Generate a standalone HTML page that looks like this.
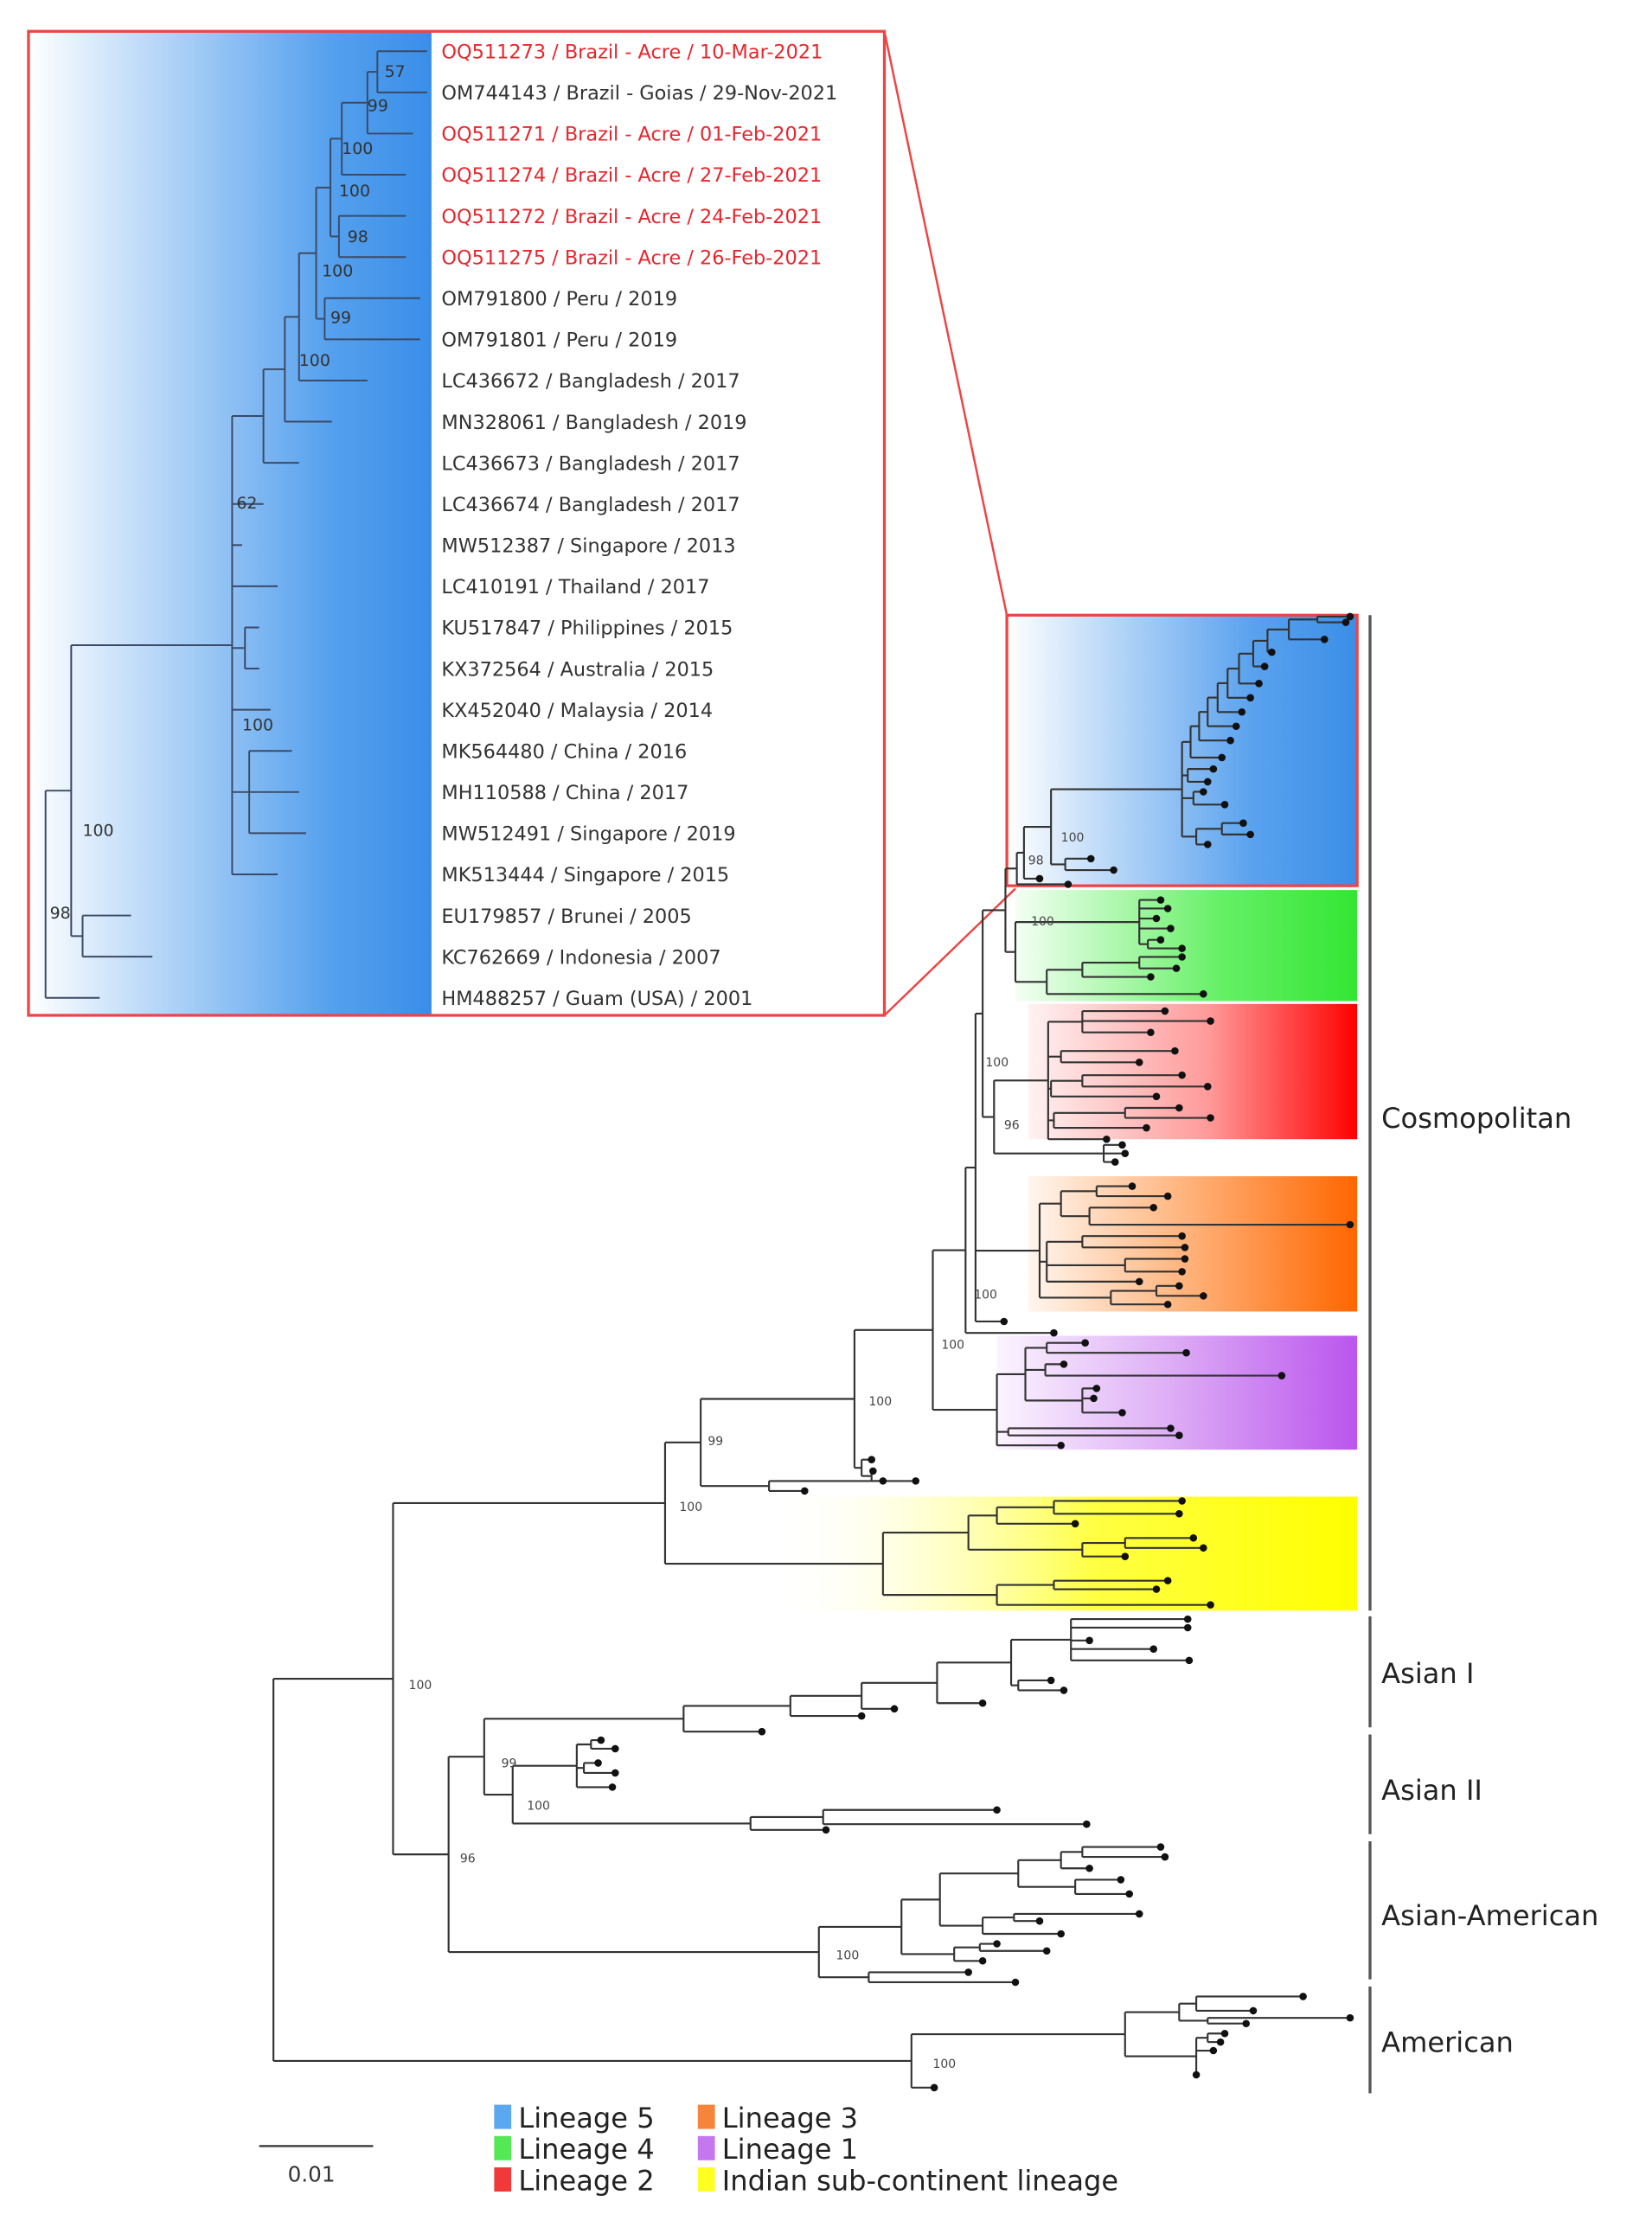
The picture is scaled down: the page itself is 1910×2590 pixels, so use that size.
<!DOCTYPE html>
<html><head><meta charset="utf-8">
<style>
html,body{margin:0;padding:0;background:#fff;}
svg{display:block;}
text{font-family:"DejaVu Sans","Liberation Sans",sans-serif;}
</style></head>
<body>
<svg id="s" xmlns="http://www.w3.org/2000/svg" width="1910" height="2590" viewBox="0 0 1160 1573" preserveAspectRatio="none">
<defs>
<linearGradient id="gInset" x1="0" x2="1" y1="0" y2="0"><stop offset="0" stop-color="#fff"/><stop offset="0.75" stop-color="#55a0ee"/><stop offset="1" stop-color="#3a8ee8"/></linearGradient>
<linearGradient id="gB" x1="0" x2="1"><stop offset="0" stop-color="#fff"/><stop offset="0.7" stop-color="#5aa2ee"/><stop offset="1" stop-color="#3a8ee8"/></linearGradient>
<linearGradient id="gG" x1="0" x2="1"><stop offset="0" stop-color="#f4fff4"/><stop offset="0.6" stop-color="#66f066"/><stop offset="1" stop-color="#33e633"/></linearGradient>
<linearGradient id="gR" x1="0" x2="1"><stop offset="0" stop-color="#fff2f2"/><stop offset="0.55" stop-color="#f99"/><stop offset="1" stop-color="#ff0000"/></linearGradient>
<linearGradient id="gO" x1="0" x2="1"><stop offset="0" stop-color="#fff6ee"/><stop offset="0.5" stop-color="#ffb077"/><stop offset="1" stop-color="#ff6600"/></linearGradient>
<linearGradient id="gP" x1="0" x2="1"><stop offset="0" stop-color="#fbf4ff"/><stop offset="0.5" stop-color="#dcaaf5"/><stop offset="1" stop-color="#bb55ee"/></linearGradient>
<linearGradient id="gY" x1="0" x2="1"><stop offset="0" stop-color="#fff" stop-opacity="0"/><stop offset="0.55" stop-color="#ffff44"/><stop offset="1" stop-color="#ffff00"/></linearGradient>
</defs>
<rect x="20" y="22" width="283" height="691" fill="url(#gInset)"/>
<rect x="20" y="22" width="601" height="691" fill="none" stroke="#ee4444" stroke-width="2"/>
<line x1="621" y1="22" x2="707" y2="432" stroke="#ee4444" stroke-width="1.5"/>
<line x1="621" y1="713" x2="713" y2="624" stroke="#ee4444" stroke-width="1.5"/>
<rect x="707" y="432" width="246" height="190" fill="url(#gB)" stroke="#ee4444" stroke-width="2"/>
<rect x="713" y="625" width="240" height="78" fill="url(#gG)"/>
<rect x="722" y="705" width="231" height="95" fill="url(#gR)"/>
<rect x="722" y="826" width="231" height="95" fill="url(#gO)"/>
<rect x="700" y="938" width="253" height="80" fill="url(#gP)"/>
<rect x="540" y="1051" width="413" height="80" fill="url(#gY)"/>
<g stroke="#555" stroke-width="2">
<line x1="962" y1="432" x2="962" y2="1131"/>
<line x1="962" y1="1135" x2="962" y2="1213"/>
<line x1="962" y1="1218" x2="962" y2="1288"/>
<line x1="962" y1="1293" x2="962" y2="1390"/>
<line x1="962" y1="1395" x2="962" y2="1470"/>
</g>
<g font-size="19.5" fill="#222">
<text x="970" y="792">Cosmopolitan</text>
<text x="970" y="1182">Asian I</text>
<text x="970" y="1264">Asian II</text>
<text x="970" y="1352">Asian-American</text>
<text x="970" y="1441">American</text>
</g>
<g id="tree"></g>
<g font-size="13.6" id="ilab"></g>
<g font-size="8.5" fill="#444">
<text x="745" y="591">100</text><text x="722" y="607">98</text>
<text x="724" y="650">100</text><text x="692" y="749">100</text><text x="705" y="793">96</text>
<text x="684" y="912">100</text><text x="661" y="947">100</text><text x="610" y="987">100</text>
<text x="497" y="1015">99</text><text x="477" y="1061">100</text><text x="287" y="1186">100</text>
<text x="352" y="1241">99</text><text x="370" y="1271">100</text><text x="323" y="1308">96</text>
<text x="587" y="1376">100</text><text x="655" y="1452">100</text>
</g>
<g font-size="11.5" fill="#333">
<text x="270" y="54">57</text><text x="258" y="78">99</text><text x="240" y="108">100</text>
<text x="238" y="138">100</text><text x="244" y="170">98</text><text x="226" y="194">100</text>
<text x="232" y="227">99</text><text x="210" y="257">100</text><text x="166" y="357">62</text>
<text x="170" y="513">100</text><text x="58" y="587">100</text><text x="35" y="645">98</text>
</g>
<g font-size="19.5" fill="#222">
<rect x="347" y="1478" width="12" height="17" fill="#5aa8f0"/><text x="364" y="1494">Lineage 5</text>
<rect x="347" y="1500" width="12" height="17" fill="#55e855"/><text x="364" y="1516">Lineage 4</text>
<rect x="347" y="1522" width="12" height="17" fill="#f03a3a"/><text x="364" y="1538">Lineage 2</text>
<rect x="490" y="1478" width="12" height="17" fill="#f7843a"/><text x="507" y="1494">Lineage 3</text>
<rect x="490" y="1500" width="12" height="17" fill="#c477ee"/><text x="507" y="1516">Lineage 1</text>
<rect x="490" y="1522" width="12" height="17" fill="#ffff22"/><text x="507" y="1538">Indian sub-continent lineage</text>
</g>
<line x1="182" y1="1507" x2="262" y2="1507" stroke="#444" stroke-width="1.5"/>
<text x="202" y="1532" font-size="15" fill="#333">0.01</text>
</svg>
<script>
function T(x,y){return {x:x,y:y,t:1};}
function N(x,k){return {x:x,k:k};}
function lay(n){if(n.t)return n.y;var ys=n.k.map(lay);n.y=(Math.min.apply(0,ys)+Math.max.apply(0,ys))/2;n.lo=Math.min.apply(0,ys);n.hi=Math.max.apply(0,ys);return n.y;}
var out=[];
function draw(n,dots,col,w){
 if(n.t){if(dots)out.push('<circle cx="'+n.x+'" cy="'+n.y+'" r="2.6" fill="#111"/>');return;}
 out.push('<line x1="'+n.x+'" y1="'+n.lo+'" x2="'+n.x+'" y2="'+n.hi+'" stroke="'+col+'" stroke-width="'+w+'"/>');
 n.k.forEach(function(c){out.push('<line x1="'+n.x+'" y1="'+c.y+'" x2="'+c.x+'" y2="'+c.y+'" stroke="'+col+'" stroke-width="'+w+'"/>');draw(c,dots,col,w);});
}
var L5=N(714,[N(719,[N(738,[N(830,[
 N(836,[N(842,[N(848,[N(855,[N(862,[N(870,[N(880,[N(890,[N(905,[N(925,[T(948,433),T(945,437)]),T(930,449)]),T(893,458)]),T(888,468)]),T(884,480)]),T(878,490)]),T(872,500)]),T(868,510)]),T(864,520)]),T(858,532)]),
 N(834,[T(852,540),T(848,549)]),N(838,[T(845,556),T(860,565)]),N(840,[N(858,[T(873,578),T(878,586)]),T(848,593)])]),
 N(748,[T(766,603),T(782,611)])]),T(730,617)]),T(750,621)]);
var L4=N(713,[N(800,[T(815,632),T(820,638),T(812,645),T(822,652),N(806,[T(815,660),T(830,666)])]),N(735,[N(760,[N(800,[T(830,672),T(826,680)]),T(808,686)]),T(845,698)])]);
var X1=N(706,[L5,L4]);
var L2=N(698,[N(736,[N(760,[T(818,710),T(850,717),T(808,725)]),N(745,[T(825,738),T(800,746)]),N(738,[N(760,[T(830,755),T(848,763)]),T(812,770)]),N(740,[N(790,[T(828,778),T(850,785)]),T(805,792)]),T(777,800)]),N(775,[T(788,804),T(790,810),T(783,816)])]);
var X2=N(690,[X1,L2]);
var L3=N(730,[N(745,[N(770,[T(795,833),T(820,840)]),N(765,[T(810,848),T(948,860)])]),N(735,[N(760,[T(830,868),T(832,876)]),N(790,[T(832,884),T(830,893)]),T(800,900)]),N(780,[N(812,[T(828,903),T(845,910)]),T(820,916)])]);
var X3=N(685,[X2,L3,T(705,928)]);
var X4=N(678,[X3,T(740,936)]);
var L1=N(700,[N(720,[N(735,[T(762,943),T(833,950)]),N(734,[T(747,958),T(900,966)]),N(760,[T(770,975),T(768,982),T(788,992)])]),N(708,[T(822,1003),T(828,1008)]),T(745,1015)]);
var X5=N(655,[X4,L1]);
var X6=N(600,[X5,N(605,[T(612,1025),N(612,[T(643,1040),T(613,1033)])])]);
var X7=N(492,[X6,N(540,[T(565,1047),T(620,1040)])]);
var IND=N(620,[N(680,[N(700,[N(740,[T(830,1054),T(828,1063)]),T(755,1070)]),N(760,[N(790,[T(838,1080),T(845,1087)]),T(790,1093)])]),N(700,[N(740,[T(820,1110),T(812,1116)]),T(850,1127)])]);
var COS=N(467,[X7,IND]);
var AI=N(480,[N(555,[N(605,[N(658,[N(710,[N(752,[T(834,1137),T(834,1143),T(765,1152),T(810,1158),T(835,1166)]),N(715,[T(738,1180),T(747,1187)])]),T(690,1196)]),T(628,1200)]),T(605,1205)]),T(535,1216)]);
var AII=N(360,[N(405,[N(415,[T(422,1222),T(432,1228)]),N(410,[T(420,1238),T(432,1245)]),T(430,1255)]),N(527,[N(578,[T(700,1271),T(763,1281)]),T(580,1285)])]);
var N340=N(340,[AI,AII]);
var AA=N(575,[N(633,[N(660,[N(715,[N(745,[N(760,[T(815,1297),T(818,1304)]),T(765,1312)]),N(755,[T(787,1320),T(793,1330)])]),N(690,[N(712,[T(800,1344),T(730,1349)]),T(745,1358)])]),N(670,[N(688,[T(700,1365),T(735,1370)]),T(690,1377)])]),N(610,[T(680,1385),T(713,1392)])]);
var N315=N(315,[N340,AA]);
var N276=N(276,[COS,N315]);
var AM=N(640,[N(790,[N(828,[N(840,[T(915,1402),T(880,1412)]),N(848,[T(948,1417),T(875,1421)])]),N(840,[N(848,[T(860,1428),T(857,1434)]),T(852,1440),T(840,1457)])]),T(656,1466)]);
var ROOT=N(192,[N276,AM]);
lay(ROOT);draw(ROOT,true,"#333",1.3);
function Y(i,x){return T(x,36+28.9*i);}
var I1=N(232,[N(240,[N(258,[N(265,[Y(0,300),Y(1,300)]),Y(2,290)]),Y(3,285)]),N(238,[Y(4,285),Y(5,285)])]);
var I2=N(222,[I1,N(228,[Y(6,295),Y(7,295)])]);
var I3=N(200,[N(210,[I2,Y(8,258)]),Y(9,233)]);
var I4=N(185,[I3,Y(10,210)]);
var I5=N(163,[I4,Y(11,185),Y(12,170),Y(13,195),N(172,[Y(14,182),Y(15,182)]),Y(16,190),N(175,[Y(17,205),Y(18,210),Y(19,215)]),Y(20,195)]);
var I7=N(50,[I5,N(58,[Y(21,92),Y(22,107)])]);
var IR=N(32,[I7,Y(23,70)]);
lay(IR);draw(IR,false,"#3b4a66",1.2);
document.getElementById('tree').innerHTML=out.join('');
var labs=[["OQ511273 / Brazil - Acre / 10-Mar-2021",1],["OM744143 / Brazil - Goias / 29-Nov-2021",0],["OQ511271 / Brazil - Acre / 01-Feb-2021",1],["OQ511274 / Brazil - Acre / 27-Feb-2021",1],["OQ511272 / Brazil - Acre / 24-Feb-2021",1],["OQ511275 / Brazil - Acre / 26-Feb-2021",1],["OM791800 / Peru / 2019",0],["OM791801 / Peru / 2019",0],["LC436672 / Bangladesh / 2017",0],["MN328061 / Bangladesh / 2019",0],["LC436673 / Bangladesh / 2017",0],["LC436674 / Bangladesh / 2017",0],["MW512387 / Singapore / 2013",0],["LC410191 / Thailand / 2017",0],["KU517847 / Philippines / 2015",0],["KX372564 / Australia / 2015",0],["KX452040 / Malaysia / 2014",0],["MK564480 / China / 2016",0],["MH110588 / China / 2017",0],["MW512491 / Singapore / 2019",0],["MK513444 / Singapore / 2015",0],["EU179857 / Brunei / 2005",0],["KC762669 / Indonesia / 2007",0],["HM488257 / Guam (USA) / 2001",0]];
var h='';labs.forEach(function(l,i){h+='<text x="310" y="'+(41+28.9*i)+'" fill="'+(l[1]?'#e8262e':'#333')+'">'+l[0]+'</text>';});
document.getElementById('ilab').innerHTML=h;
</script>
</body></html>
